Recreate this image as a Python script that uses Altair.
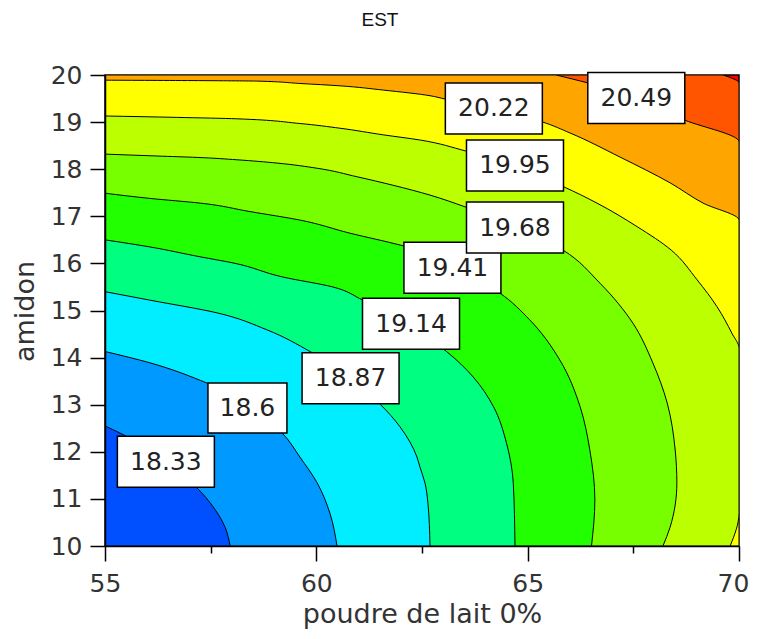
import altair as alt
import pandas as pd

# ---- contour levels of EST and the colour of the band just below each level
levels = ["18.33", "18.6", "18.87", "19.14", "19.41", "19.68", "19.95", "20.22", "20.49", "20.76"]
band_below = ["#0050ff", "#0099ff", "#00eeff", "#00ff80", "#22ff00",
              "#77ff00", "#bbff00", "#ffff00", "#ffa500", "#ff5500"]
band_top = "#ff0000"

# ---- contour lines (x = poudre de lait 0%, y = amidon)
c1833_x = [57.96, 57.84, 57.56, 57.18, 55.35, 55.00]
c1833_y = [10.00, 10.40, 10.83, 11.23, 12.40, 12.55]

c1860_x = [60.49, 60.32, 60.02, 59.61, 59.19, 57.41, 56.06, 55.00]
c1860_y = [10.00, 10.70, 11.34, 11.89, 12.40, 13.46, 13.89, 14.13]

c1887_x = [62.69, 62.64, 62.57, 62.45, 62.38, 61.98, 61.51, 59.85, 58.83, 57.65, 56.06, 55.00]
c1887_y = [10.00, 10.91, 11.34, 11.68, 11.89, 12.53, 13.01, 14.13, 14.59, 14.95, 15.22, 15.40]

c1914_x = [64.70, 64.66, 64.50, 64.19, 63.71, 63.08, 61.10, 60.39, 59.21, 58.03, 57.25, 56.06, 55.00]
c1914_y = [10.00, 11.33, 12.18, 12.96, 13.59, 14.13, 15.22, 15.50, 15.71, 16.01, 16.14, 16.35, 16.50]

c1941_x = [66.51, 66.59, 66.47, 66.24, 65.76, 65.05, 64.34, 61.98, 60.80, 59.61, 58.43, 57.25, 56.06, 55.00]
c1941_y = [10.00, 10.98, 12.04, 12.96, 13.95, 14.80, 15.37, 16.39, 16.64, 16.92, 17.10, 17.28, 17.38, 17.49]

c1968_x = [68.20, 68.37, 68.53, 68.49, 68.30, 67.96, 67.49, 66.71, 65.84, 63.52, 62.69,
           61.81, 60.96, 60.02, 59.07, 58.12, 57.18, 56.23, 55.00]
c1968_y = [10.00, 10.40, 11.34, 12.04, 13.04, 13.89, 14.73, 15.58, 16.28, 17.20, 17.45,
           17.66, 17.84, 18.02, 18.13, 18.20, 18.25, 18.28, 18.32]

c1995_x = [69.79, 70.00, 70.00, 69.83, 69.48, 69.01, 68.40, 67.59, 66.64, 65.84, 63.52,
           62.45, 61.58, 60.56, 59.61, 58.12, 56.70, 55.00]
c1995_y = [10.00, 10.70, 14.20, 14.52, 15.08, 15.65, 16.28, 16.78, 17.28, 17.63, 18.39,
           18.62, 18.73, 18.87, 18.97, 19.07, 19.10, 19.13]

c2022_x = [70.00, 70.00, 69.15, 68.37, 67.18, 66.00, 65.36, 63.04, 62.69, 61.58, 60.56, 59.61, 58.62, 55.00]
c2022_y = [10.00, 16.92, 17.28, 17.71, 18.26, 18.77, 19.00, 19.49, 19.56, 19.68, 19.77, 19.82, 19.87, 19.89]

c2049_x = [70.00, 70.00, 68.72, 66.43, 65.67]
c2049_y = [10.00, 18.58, 19.04, 19.83, 20.00]

c2076_x = [70.00, 70.00, 69.62]
c2076_y = [10.00, 19.83, 20.00]

curves_x = [c1833_x, c1860_x, c1887_x, c1914_x, c1941_x, c1968_x, c1995_x, c2022_x, c2049_x, c2076_x]
curves_y = [c1833_y, c1860_y, c1887_y, c1914_y, c1941_y, c1968_y, c1995_y, c2022_y, c2049_y, c2076_y]

# ---- contour labels (text and where the box sits, in data units)
label_text = ["18.33", "18.6", "18.87", "19.14", "19.41", "19.68", "19.95", "20.22", "20.49"]
label_x = [56.44, 58.37, 60.81, 62.24, 63.22, 64.70, 64.70, 64.20, 67.57]
label_y = [11.79, 12.93, 13.56, 14.72, 15.91, 16.76, 18.08, 19.29, 19.51]

x_ticks = [55, 57.5, 60, 62.5, 65, 67.5, 70]
y_ticks = [10 + 0.5 * i for i in range(21)]

xs = alt.Scale(domain=[55, 70], nice=False, zero=False)
ys = alt.Scale(domain=[10, 20], nice=False, zero=False)

FONT = "DejaVu Sans"

x_axis = alt.Axis(
    values=x_ticks, format="d",
    labelExpr="datum.value % 5 === 0 ? datum.label : ''",
    tickSize={"condition": {"test": "datum.value % 5 === 0", "value": 15}, "value": 7},
    labelOffset={"condition": {"test": "datum.value === 70", "value": -6}, "value": 0},
    labelPadding=10, labelFlush=False, labelOverlap=False,
    labelFont=FONT, labelFontSize=25, labelColor="#333",
    tickColor="black", tickWidth=1.5, domainColor="black", domainWidth=1.5,
    grid=False, zindex=1,
    title="poudre de lait 0%", titleFont=FONT, titleFontSize=27, titleFontWeight="normal",
    titleColor="#333", titleX=317, titleY=76, titleAlign="center", titleBaseline="alphabetic",
)
y_axis = alt.Axis(
    values=y_ticks, format="d",
    labelExpr="datum.value % 1 === 0 ? datum.label : ''",
    tickSize={"condition": {"test": "datum.value % 1 === 0", "value": 15}, "value": 8},
    labelPadding=8, labelFlush=False, labelOverlap=False,
    labelFont=FONT, labelFontSize=25, labelColor="#333",
    tickColor="black", tickWidth=1.5, domainColor="black", domainWidth=1.5,
    grid=False, zindex=1,
    title="amidon", titleFont=FONT, titleFontSize=27, titleFontWeight="normal",
    titleColor="#333", titleX=-72, titleY=236, titleAngle=-90, titleAlign="center",
    titleBaseline="alphabetic",
)

layers = []
# paint from the highest level down: region below/left of each line gets the band colour below it
for k in range(len(levels) - 1, -1, -1):
    cdf = pd.DataFrame({"x": curves_x[k], "y": curves_y[k]})
    cdf["x0"] = 55.0
    cdf = cdf.sort_values("y")
    layer = (
        alt.Chart(cdf)
        .mark_area(orient="horizontal", interpolate="monotone", fill=band_below[k],
                   fillOpacity=1, stroke="black", strokeWidth=1, clip=True)
        .encode(
            x=alt.X("x:Q", scale=xs, axis=x_axis),
            x2="x0:Q",
            y=alt.Y("y:Q", scale=ys, axis=y_axis),
        )
    )
    layers.append(layer)

lab = pd.DataFrame({"text": label_text, "x": label_x, "y": label_y})
box_long = (
    alt.Chart(lab).transform_filter("length(datum.text) == 5")
    .mark_rect(fill="white", stroke="black", strokeWidth=1.5, width=97, height=51)
    .encode(x=alt.X("x:Q", scale=xs, axis=x_axis), y=alt.Y("y:Q", scale=ys, axis=y_axis))
)
box_short = (
    alt.Chart(lab).transform_filter("length(datum.text) == 4")
    .mark_rect(fill="white", stroke="black", strokeWidth=1.5, width=79, height=50)
    .encode(x=alt.X("x:Q", scale=xs, axis=x_axis), y=alt.Y("y:Q", scale=ys, axis=y_axis))
)
texts = (
    alt.Chart(lab)
    .mark_text(font=FONT, fontSize=25, color="#222", align="center", baseline="middle")
    .encode(x=alt.X("x:Q", scale=xs, axis=x_axis), y=alt.Y("y:Q", scale=ys, axis=y_axis),
            text="text:N")
)

chart = (
    alt.layer(*layers, box_long, box_short, texts)
    .properties(
        width=634, height=471,
        title=alt.TitleParams("EST", font="Liberation Sans", fontSize=19, fontWeight="normal",
                              color="#111", anchor="middle", frame="bounds",
                              baseline="alphabetic", offset=18),
        autosize=alt.AutoSizeParams(type="none"),
        padding={"left": 97, "top": 67, "right": 11, "bottom": 85},
    )
    .configure_view(fill=band_top, stroke="black", strokeWidth=1.5)
)

chart.save("out.html", embed_options={"renderer": "svg", "actions": False})
